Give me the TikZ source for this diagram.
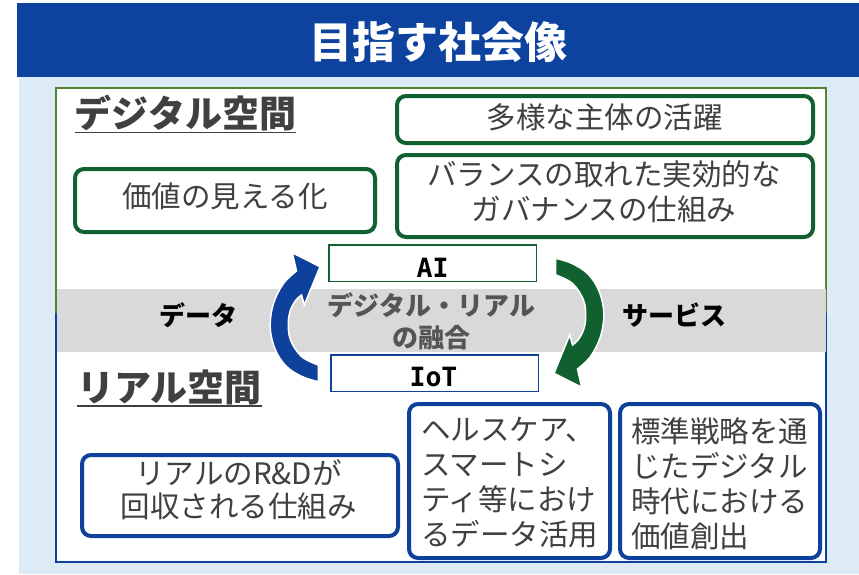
\documentclass[tikz,border=0pt]{standalone}
\usepackage{fontspec}
\setmainfont{Noto Sans CJK JP}
\newfontfamily\monob{DejaVu Sans Mono}
\definecolor{bannerblue}{RGB}{13,67,158}
\definecolor{bglight}{RGB}{221,235,247}
\definecolor{olive}{RGB}{84,130,53}
\definecolor{dgreen}{RGB}{16,96,48}
\definecolor{dblue}{RGB}{14,65,155}
\definecolor{tgray}{RGB}{64,64,64}
\definecolor{mgray}{RGB}{85,85,85}
\definecolor{band}{RGB}{217,217,217}
\newcommand\myarrowshape{plot[smooth, tension=0.6] coordinates {(318.3,381.7) (302,376.5) (286,366) (275,349) (270.2,327) (273.5,303.5) (283.5,283.5) (296.5,271)} -- (292.3,252.7) -- (320,266.7) -- (304.3,305) -- (301.5,295) -- plot[smooth, tension=0.6] coordinates {(301.5,295) (296,300) (290.5,310) (288.3,323) (290.5,340) (301.7,356.7) (318.3,365)} -- cycle}
\begin{document}
\begin{tikzpicture}[x=1pt,y=-1pt,
  gbox/.style={draw=dgreen, line width=4pt, rounded corners=9pt, fill=white, inner sep=0pt},
  bbox/.style={draw=dblue, line width=4pt, rounded corners=9pt, fill=white, inner sep=0pt},
  txt/.style={text=tgray, font=\fontsize{29.5}{35}\selectfont, inner sep=0pt, align=center},
  ttl/.style={text=tgray, font=\fontsize{37}{44}\selectfont\bfseries, inner sep=0pt, anchor=base},
  uline/.style={draw=tgray, line width=1.6pt},
  lbl/.style={text=black, font=\fontsize{26}{30}\selectfont\bfseries, inner sep=0pt},
  tagbox/.style={fill=white, line width=1.5pt, inner sep=0pt, minimum width=207.5pt, minimum height=36.5pt},
  tagtxt/.style={text=black, font=\monob\bfseries\fontsize{26.5}{30}\selectfont, inner sep=0pt},
  region/.style={line width=2pt, inner sep=0pt, minimum width=770pt},
  arrowfill/.style={draw=white, line width=1.5pt}
]
\useasboundingbox (0,0) rectangle (859,574);
\fill[white] (0,0) rectangle (859,574);
% background and banner
\fill[bglight] (19,77) rectangle (859,574);
\node[fill=bannerblue, minimum width=842pt, minimum height=74pt, inner sep=0pt, anchor=north west] (banner) at (17,3) {};
\node[text=white, font=\fontsize{43}{50}\selectfont\bfseries, inner sep=0pt] (bannertitle) at (438,42.5) {目指す社会像};
% regions
\node[region, draw=olive, fill=white, minimum height=224pt] (digital) at (441,200) {};
\node[region, draw=dblue, fill=white, minimum height=248pt] (real) at (441,438) {};
\node[fill=band, inner sep=0pt, minimum width=769pt, minimum height=63pt] (fusionband) at (441.5,320.5) {};
% titles
\node[ttl] (dtitle) at (185.5,127.5) {デジタル空間};
\draw[uline] ([yshift=-5pt]dtitle.base west) -- ([yshift=-5pt]dtitle.base east);
\node[ttl] (rtitle) at (169.5,401) {リアル空間};
\draw[uline] ([yshift=-5pt]rtitle.base west) -- ([yshift=-5pt]rtitle.base east);
% digital boxes
\node[gbox, minimum width=416pt, minimum height=47pt] (actors) at (605,119.5) {};
\node[txt] (actorst) at (604.5,117.5) {多様な主体の活躍};
\node[gbox, minimum width=416pt, minimum height=82pt] (gov) at (605,196) {};
\node[txt] (govt) at (604,191.5) {バランスの取れた実効的な\\ガバナンスの仕組み};
\node[gbox, minimum width=300pt, minimum height=63pt] (visual) at (225,200.5) {};
\node[txt] (visualt) at (225,196.5) {価値の見える化};
% AI / IoT
\node[tagbox, draw=dgreen] (ai) at (432.5,263) {};
\node[tagtxt] (ait) at (432.5,267.5) {AI};
\node[tagbox, draw=dblue] (iot) at (434.5,373) {};
\node[tagtxt] (iott) at (433.5,377.5) {IoT};
% center labels
\node[text=mgray, font=\fontsize{26}{31.5}\selectfont\bfseries, inner sep=0pt, align=center] (fusion) at (431.5,321.5) {デジタル・リアル\\の融合};
\node[lbl] (data) at (198,315) {データ};
\node[lbl] (service) at (674,315.5) {サービス};
% real boxes
\node[bbox, minimum width=316pt, minimum height=81pt] (rd) at (240,495.5) {};
\node[txt, font=\fontsize{29.5}{33}\selectfont] (rdt) at (238.5,490) {リアルのR\&Dが\\回収される仕組み};
\node[bbox, minimum width=201pt, minimum height=154pt] (health) at (509.5,481) {};
\node[txt, align=left, anchor=west] (healtht) at (421,482.5) {ヘルスケア、\\スマートシ\\ティ等におけ\\るデータ活用};
\node[bbox, minimum width=200pt, minimum height=154pt] (std) at (720,481) {};
\node[txt, align=left, anchor=west] (stdt) at (631,483.5) {標準戦略を通\\じたデジタル\\時代における\\価値創出};
% circular arrows
\filldraw[fill=dblue, arrowfill] \myarrowshape;
\begin{scope}[rotate around={180:(437,320)}]
\filldraw[fill=dgreen, arrowfill] \myarrowshape;
\end{scope}
\end{tikzpicture}
\end{document}
